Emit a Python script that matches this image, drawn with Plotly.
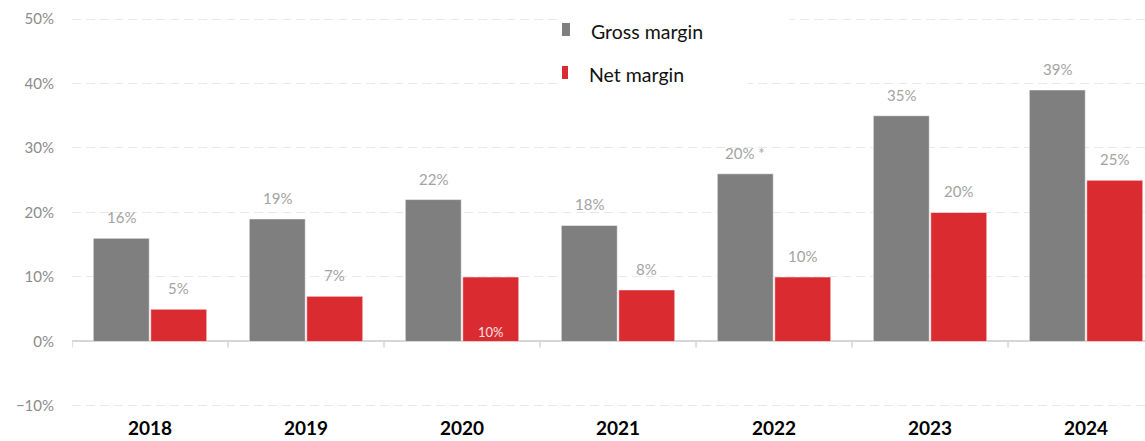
import plotly.graph_objects as go

# Margins by year (fractions)
years = ["2018", "2019", "2020", "2021", "2022", "2023", "2024"]
gross_margin = [0.16, 0.19, 0.22, 0.18, 0.26, 0.35, 0.39]
net_margin = [0.05, 0.07, 0.10, 0.08, 0.10, 0.20, 0.25]
gross_labels = ["16%", "19%", "22%", "18%", "20% *", "35%", "39%"]
net_labels = ["5%", "7%", "10%", "8%", "10%", "20%", "25%"]
y_ticks = [-0.1, 0.0, 0.1, 0.2, 0.3, 0.4, 0.5]

GREY = "#7f7f7f"
RED = "#d92b30"
FONT = "Lato"

W, H = 1145, 441
ML, MR, MT, MB = 72, 0, 16, 32
PW, PH = W - ML - MR, H - MT - MB

fig = go.Figure()
fig.add_trace(go.Bar(
    x=years, y=gross_margin, name="Gross margin",
    marker=dict(color=GREY, line=dict(color="rgba(255,255,255,0.55)", width=1)),
))
fig.add_trace(go.Bar(
    x=years, y=net_margin, name="Net margin",
    marker=dict(color=RED, line=dict(color="rgba(255,255,255,0.55)", width=1)),
))

# value labels above bars (offset to each bar's centre within its group)
off = 0.184
annotations = []
for i, (g, gl) in enumerate(zip(gross_margin, gross_labels)):
    annotations.append(dict(x=i - off, y=g, xref="x", yref="y", text=gl,
                            showarrow=False, yanchor="middle", yshift=21,
                            font=dict(family=FONT, size=15, color="#a3a3a3")))
for i, (n, nl) in enumerate(zip(net_margin, net_labels)):
    if years[i] == "2020":
        # this one sits inside the bar, near its base
        annotations.append(dict(x=i + off, y=0, xref="x", yref="y", text=nl,
                                showarrow=False, yanchor="middle", yshift=9,
                                font=dict(family=FONT, size=13, color="#f6e4e4")))
    else:
        annotations.append(dict(x=i + off, y=n, xref="x", yref="y", text=nl,
                                showarrow=False, yanchor="middle", yshift=21,
                                font=dict(family=FONT, size=15, color="#a3a3a3")))

# legend drawn by hand; helpers convert page pixels to plot-area fractions
def px(x):
    return (x - ML) / PW
def py(y):
    return (MT + PH - y) / PH

shapes = []
# white backing behind legend entries (hides gridlines)
shapes.append(dict(type="rect", xref="paper", yref="paper", layer="above",
                   x0=px(560), x1=px(790), y0=py(10), y1=py(50),
                   fillcolor="white", line=dict(width=0)))
shapes.append(dict(type="rect", xref="paper", yref="paper", layer="above",
                   x0=px(560), x1=px(748), y0=py(55), y1=py(95),
                   fillcolor="white", line=dict(width=0)))
shapes.append(dict(type="rect", xref="paper", yref="paper", layer="above",
                   x0=px(562), x1=px(570), y0=py(23), y1=py(36),
                   fillcolor=GREY, line=dict(width=0)))
shapes.append(dict(type="rect", xref="paper", yref="paper", layer="above",
                   x0=px(562), x1=px(568), y0=py(66), y1=py(79),
                   fillcolor=RED, line=dict(width=0)))
annotations.append(dict(x=px(589), y=py(31.5), xref="paper", yref="paper",
                        text="Gross margin", showarrow=False, xanchor="left",
                        yanchor="middle", font=dict(family=FONT, size=19.5, color="#111111")))
annotations.append(dict(x=px(587), y=py(74.5), xref="paper", yref="paper",
                        text="Net margin", showarrow=False, xanchor="left",
                        yanchor="middle", font=dict(family=FONT, size=19.5, color="#111111")))

# category boundary ticks hanging below the zero line
for i in range(len(years) + 1):
    shapes.append(dict(type="line", xref="x", yref="y", ysizemode="pixel",
                       yanchor=0, x0=i - 0.5, x1=i - 0.5, y0=0, y1=-6,
                       line=dict(color="#d6d6d6", width=1.5)))

fig.update_layout(
    width=W, height=H,
    margin=dict(l=ML, r=MR, t=MT, b=MB, autoexpand=False),
    paper_bgcolor="white", plot_bgcolor="white",
    barmode="group", bargap=0.263, bargroupgap=0.026,
    showlegend=False,
    annotations=annotations, shapes=shapes,
    font=dict(family=FONT),
)
fig.update_xaxes(
    type="category", range=[-0.5, 6.378], automargin=False,
    showgrid=False, showline=False, ticks="", zeroline=False,
    tickfont=dict(family=FONT, size=19, color="#000000", weight="bold"),
    ticklabelstandoff=6,
)
fig.update_yaxes(
    range=[-0.1047, 0.50465], tickvals=y_ticks, tickformat=".0%", automargin=False,
    showgrid=True, gridcolor="#e8e8e8", gridwidth=1, griddash="9px,5px",
    zeroline=True, zerolinecolor="#d6d6d6", zerolinewidth=1.5,
    showline=False, ticks="",
    tickfont=dict(family=FONT, size=15, color="#8c8c8c"),
    ticklabelstandoff=17,
)

fig.write_html("out.html")
